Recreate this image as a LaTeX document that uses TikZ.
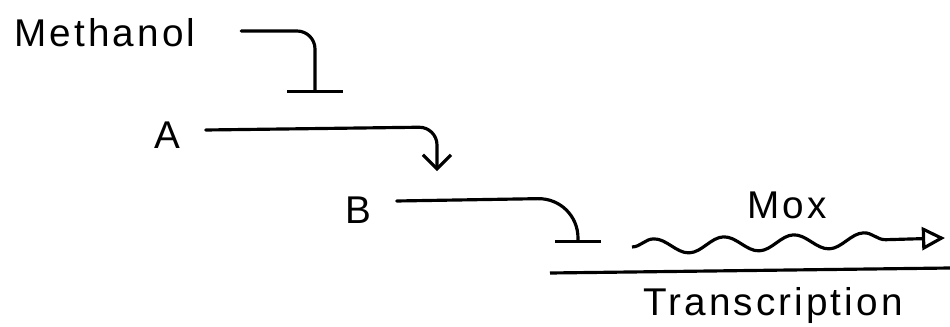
\documentclass[tikz,border=0pt]{standalone}
\usepackage{fontspec}
\setmainfont[LetterSpace=8]{Liberation Sans}
\usetikzlibrary{arrows.meta,decorations.pathmorphing}

\begin{document}
\begin{tikzpicture}[
    x=0.01cm, y=-0.01cm,
    lbl/.style={inner sep=0pt, font=\fontsize{11}{13}\selectfont},
    link/.style={line width=0.9pt, line cap=round, rounded corners=0.18cm},
    inhib/.style={link, -{Bar[width=0.55cm, line width=0.9pt]}},
    activ/.style={link, -{Straight Barb[length=0.14cm, width=0.28cm, line width=0.9pt]}},
    wave/.style={line width=0.9pt, -{Triangle[open, length=0.23cm, width=0.23cm, line width=0.9pt]},
        decorate, decoration={snake, amplitude=0.075cm, segment length=0.7cm, post length=0.4cm}},
]

\useasboundingbox (0,0) rectangle (950,327);

% Labels
\node[lbl] (methanol) at (105,33) {Methanol};
\node[lbl] (a) at (167,135) {A};
\node[lbl] (b) at (358,210) {B};
\node[lbl] (mox) at (787,205) {Mox};
\node[lbl] (transcription) at (773,305) {Transcription};

% Free ends of the regulation lines
\coordinate (methanol-bar) at (315,93);
\coordinate (a-tip) at (437,171);
\coordinate (b-bar) at (578,243);
\coordinate (mox-start) at (632,247);
\coordinate (mox-tip) at (945,238);

% Methanol inhibits, A activates, B inhibits
\draw[inhib] ([xshift=0.45cm, yshift=0.02cm]methanol.east) -- (methanol-bar |- 0,31) -- (methanol-bar);
\draw[activ] ([xshift=0.25cm, yshift=0.05cm]a.east) -- (a-tip |- 0,127) -- (a-tip);
\draw[inhib, rounded corners=0.4cm, -{Bar[width=0.46cm, line width=0.9pt]}]
    ([xshift=0.25cm, yshift=0.09cm]b.east) -- (b-bar |- 0,198) -- (b-bar);

% Mox transcript and DNA line
\draw[wave] (mox-start) -- (mox-tip);
\draw[line width=0.9pt] (550,273) -- (950,268);

\end{tikzpicture}
\end{document}
